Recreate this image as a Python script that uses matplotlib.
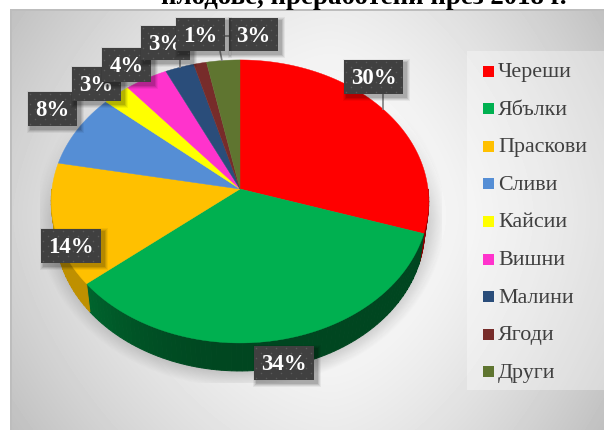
import numpy as np
import matplotlib
matplotlib.use("Agg")
import matplotlib.pyplot as plt
from matplotlib.patches import Rectangle, Polygon
from matplotlib.colors import to_rgb

categories = ["Череши", "Ябълки", "Праскови", "Сливи", "Кайсии", "Вишни", "Малини", "Ягоди", "Други"]
values = [30.0, 34.0, 14.0, 8.4, 2.6, 4.0, 2.7, 1.2, 3.1]
title_text = "плодове, преработени през 2018 г."

colors = ["#FF0000", "#00B050", "#FFC000", "#558ED5", "#FFFF00", "#FF33CC", "#2A4D7A", "#772C2A", "#5F7530"]
SERIF = "Liberation Serif"
W, H = 604, 430

fig = plt.figure(figsize=(W / 100, H / 100), dpi=100, facecolor="white")
ax = fig.add_axes([0, 0, 1, 1])
ax.axis("off")

# background gradient
yy, xx = np.mgrid[0:H, 0:W]
dx = np.abs(xx - 330) / np.where(xx < 330, 320.0, 274.0)
dy = np.abs(yy - 215) / 215.0
g = 1 - 0.17 * dx ** 1.6 - 0.08 * dy ** 1.6
ax.imshow(g, extent=(0, W, H, 0), cmap="gray", vmin=0, vmax=1, zorder=0, aspect="auto")
ax.add_patch(Rectangle((0, 0), 10, H, fc="white", lw=0, zorder=0.5))
ax.add_patch(Rectangle((0, 0), W, 9, fc="white", lw=0, zorder=0.5))
ax.add_patch(Rectangle((10, 9), W, 2, fc="#BDBDBD", lw=0, zorder=1))
ax.add_patch(Rectangle((10, 9), 2, H, fc="#BDBDBD", lw=0, zorder=1))

# legend panel
ax.add_patch(Rectangle((467, 51), W - 467, 339, fc="white", alpha=0.35, lw=0, zorder=1))

CX, CY0 = 240.0, 189.0
AX, BY, K = 188.0, 140.4, 0.088


def project(ang, scale=1.0, dy=0.0):
    """Perspective view of a unit-circle point, angle clockwise from the top."""
    x, y = np.sin(ang), np.cos(ang)
    w = 1 + K * y
    return CX + scale * AX * x / w, CY0 - BY * y / w + dy


DEPTH = 28.0
BOT = 0.978
fr = np.cumsum([0] + values) / sum(values) * 2 * np.pi

# soft shadow, clipped to the plot box
sh_x, sh_y = np.meshgrid(np.arange(40, 442), np.arange(20, 383))
sh = np.hypot((sh_x - 240) / 205.0, (sh_y - 215) / 172.0)
alpha = np.clip((1.0 - sh) / 0.13, 0, 1) * 0.36 * np.clip((sh_y - 110) / 110.0, 0, 1)
rgba = np.zeros(sh.shape + (4,))
rgba[..., :3] = 0.3
rgba[..., 3] = alpha
ax.imshow(rgba, extent=(40, 442, 383, 20), zorder=2, aspect="auto")

ax.set_xlim(0, W)
ax.set_ylim(H, 0)


def shade(c, f):
    return tuple(v * f for v in to_rgb(c))


# side walls, drawn in strips so that they can carry a shade
for i in range(len(values)):
    a0, a1 = fr[i], fr[i + 1]
    lo, hi = max(a0, np.pi / 2), min(a1, 3 * np.pi / 2)
    if hi <= lo:
        continue
    edges = np.linspace(lo, hi, max(2, int((hi - lo) * 40)))
    for e0, e1 in zip(edges[:-1], edges[1:]):
        t = np.sin(0.5 * (e0 + e1))
        f = 0.40 + 0.28 * np.clip(-t, 0, 1) ** 2
        if i == 2:
            f = 0.75
        if i == 0:
            f = 0.55
        ang = np.linspace(e0, e1, 4)
        tx, ty = project(ang)
        bx, by = project(ang[::-1], scale=BOT, dy=DEPTH)
        col = shade(colors[i], f)
        ax.add_patch(Polygon(np.c_[np.r_[tx, bx], np.r_[ty, by]], fc=col, ec=col, lw=0.7, zorder=3))

# top face
for i, c in enumerate(colors):
    ang = np.linspace(fr[i], fr[i + 1], 120)
    x, y = project(ang)
    ax.add_patch(Polygon(np.c_[np.r_[CX, x], np.r_[CY0, y]], fc=c, ec=c, lw=0.3, zorder=4))

# leader lines
for (x0, y0, x1, y1) in [(383, 94, 383, 110), (180, 60, 180, 68), (220, 51, 222, 61), (225, 36, 229, 36)]:
    ax.plot([x0, x1], [y0, y1], color="#7F7F7F", lw=1.2, zorder=5, solid_capstyle="butt")

# data labels
boxes = {0: (344, 60, 59, 34), 1: (254, 346, 60, 34), 2: (41, 229, 60, 34), 3: (28, 92, 49, 34),
         4: (72, 67, 49, 34), 5: (102, 48, 49, 34), 6: (141, 26, 49, 34), 7: (176, 18, 49, 33), 8: (229, 18, 49, 33)}
z = 6.0
for i in [0, 1, 2, 8, 3, 4, 5, 6, 7]:
    bx, by, bw, bh = boxes[i]
    for grow, al in [(4, 0.05), (3, 0.07), (2, 0.09), (1, 0.11)]:
        ax.add_patch(Rectangle((bx + 3 - grow, by + 3 - grow), bw + 2 * grow, bh + 2 * grow,
                               fc="black", alpha=al, lw=0, zorder=z))
    ax.add_patch(Rectangle((bx, by), bw, bh, fc="#404040", lw=0, zorder=z + 0.1))
    gx, gy = np.meshgrid(np.arange(bx + 2, bx + bw - 1, 10.0), np.arange(by + 2, by + bh - 1, 5.0))
    gx = gx + 5.0 * (np.arange(gx.shape[0])[:, None] % 2)
    keep = gx < bx + bw - 1
    ax.plot(gx[keep], gy[keep], ls="none", marker="s", ms=1.0, mew=0, color="#5A5A5A", zorder=z + 0.2)
    ax.text(bx + bw / 2, by + bh / 2 + 1.5, f"{round(values[i])}%", color="white", family=SERIF,
            fontweight="bold", fontsize=16.5, ha="center", va="center", zorder=z + 0.3)
    z += 1

# legend
for i, (name, c) in enumerate(zip(categories, colors)):
    ly = 71 + i * 37.6
    ax.add_patch(Rectangle((483, ly - 5.5), 11, 11, fc=c, lw=0, zorder=5))
    ax.text(498, ly + 1.5, name, color="#404040", family=SERIF, fontsize=15.8, va="center", ha="left", zorder=5)

# title, cut by the top edge as in the source
ax.text(363.5, 4.5, title_text, color="black", family=SERIF, fontweight="bold", fontsize=19.35,
        ha="center", va="baseline", zorder=8)

ax.set_xlim(0, W)
ax.set_ylim(H, 0)
fig.savefig("out.png", dpi=100)
